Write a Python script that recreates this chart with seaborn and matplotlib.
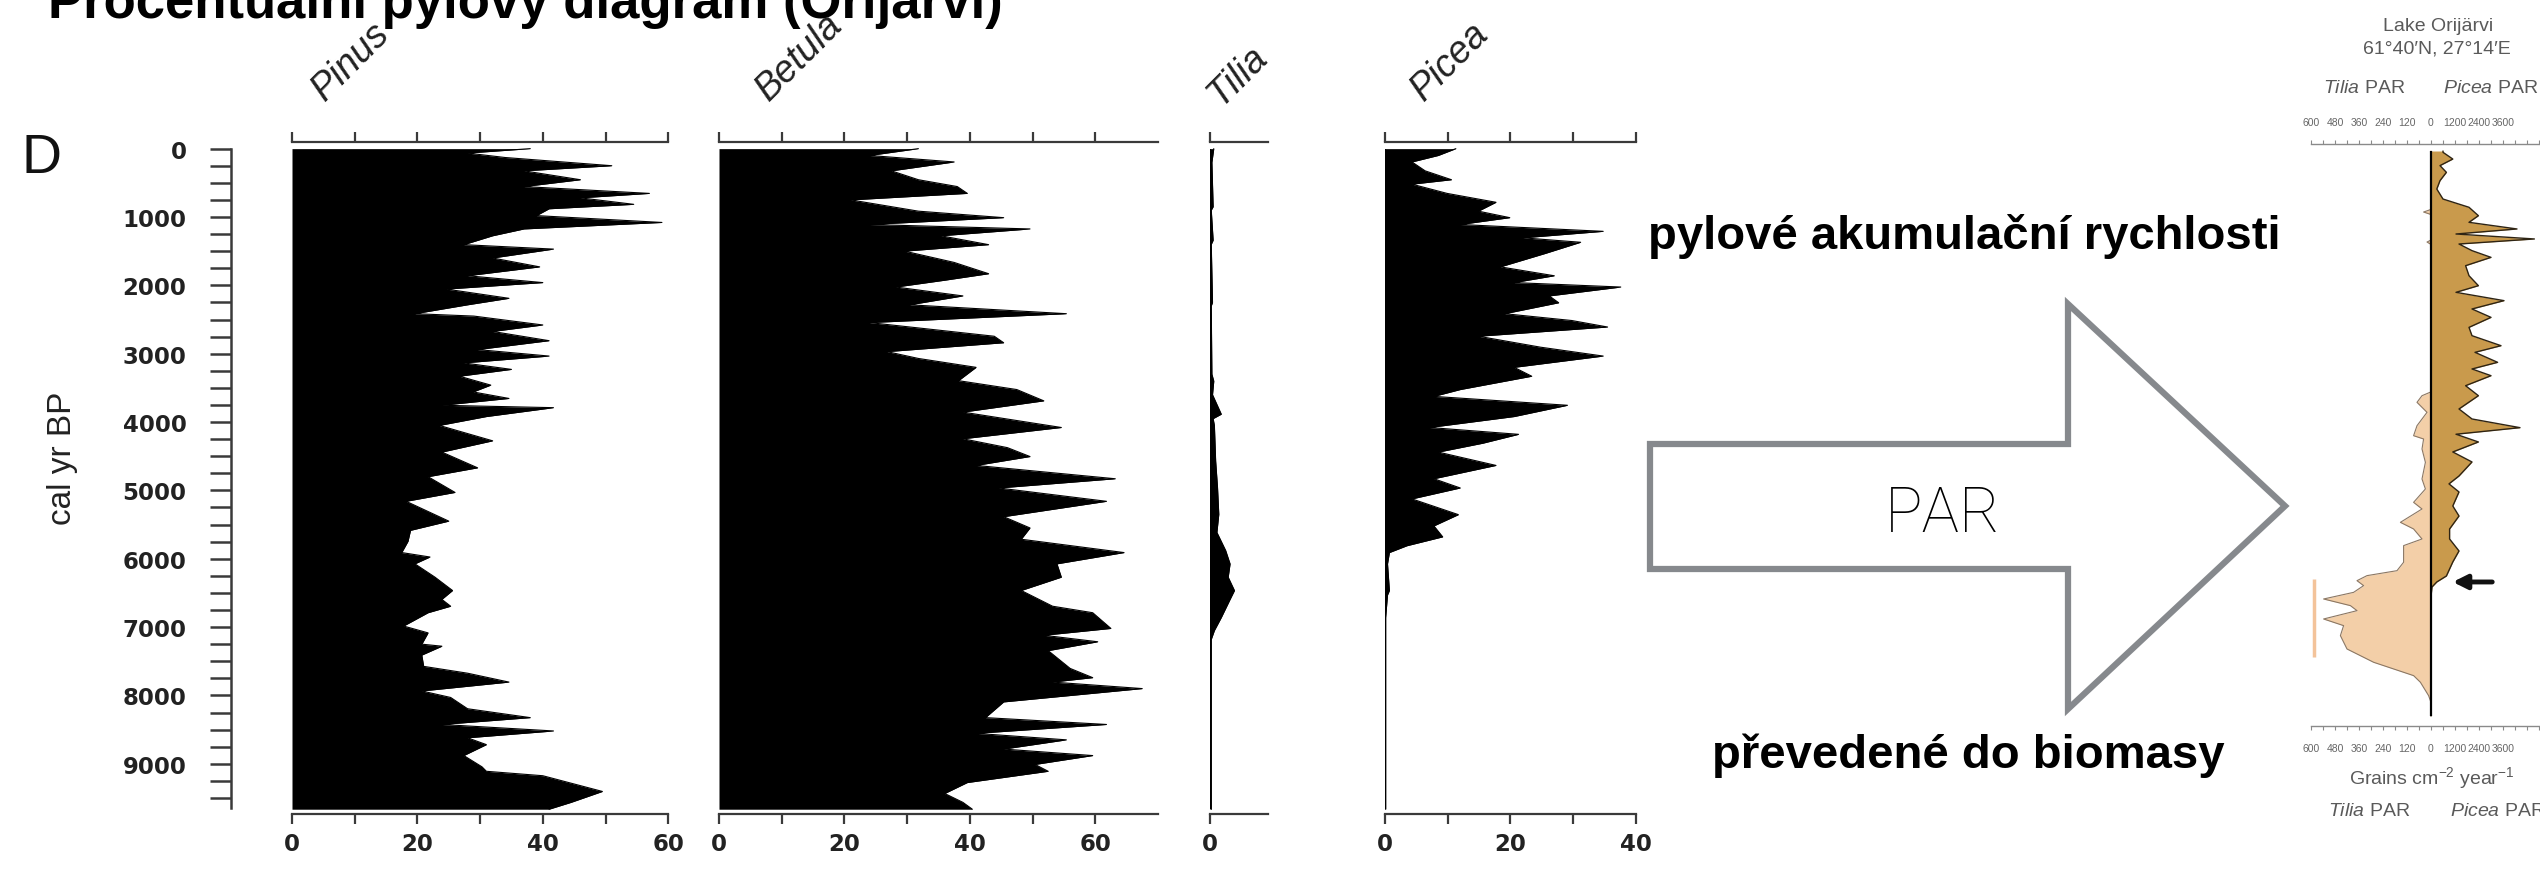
import numpy as np
import matplotlib
matplotlib.use("Agg")
import matplotlib.pyplot as plt
import seaborn as sns
from matplotlib.patches import Polygon

# ---------------- data ----------------
title = "Procentuální pylový diagram (Orijärvi)"
taxa = ["Pinus", "Betula", "Tilia", "Picea"]

pinus_age = [0, 65, 130, 250, 325, 455, 555, 655, 720, 815,
             880, 980, 1080, 1175, 1275, 1405, 1470, 1600, 1730, 1860,
             1960, 2055, 2190, 2285, 2415, 2450, 2580, 2675, 2810, 2940,
             3035, 3135, 3230, 3330, 3460, 3560, 3655, 3755, 3790, 3920,
             4050, 4275, 4440, 4670, 4800, 5030, 5160, 5450, 5585, 5745,
             5910, 5975, 6075, 6270, 6465, 6595, 6695, 6790, 6985, 7085,
             7250, 7280, 7410, 7575, 7675, 7805, 7935, 8030, 8195, 8325,
             8425, 8520, 8620, 8720, 8880, 9045, 9110, 9175, 9405, 9565,
             9665]
pinus_pct = [38, 28, 34, 51, 37, 46, 37, 57, 46, 54.5,
             41, 39, 59, 37, 32, 27.4, 41.7, 32, 39.5, 28,
             40, 24.6, 34.6, 28, 19.6, 29, 40, 32, 41, 29.6,
             41, 27.4, 35, 26.7, 31.7, 28.9, 34.6, 23.9, 41.7, 31,
             23.5, 32, 23.9, 29.6, 21.7, 26, 18.2, 25, 18.9, 18.5,
             17.5, 22, 19.6, 22.8, 25.6, 23.9, 25.3, 21.7, 17.8, 21.7,
             20.7, 23.9, 20.7, 21, 28, 34.6, 20.7, 25.3, 28, 38,
             23.9, 41.7, 28, 31, 27.4, 30.3, 31, 40, 49.5, 44.5,
             41]

betula_age = [0, 100, 195, 325, 455, 555, 655, 750, 915, 1010,
              1110, 1175, 1275, 1405, 1500, 1665, 1830, 1925, 2025, 2155,
              2285, 2415, 2545, 2745, 2840, 2970, 3070, 3200, 3395, 3525,
              3690, 3855, 4080, 4245, 4375, 4505, 4635, 4830, 4965, 5160,
              5385, 5550, 5715, 5910, 6075, 6270, 6465, 6695, 6790, 7020,
              7120, 7215, 7345, 7605, 7740, 7805, 7900, 8095, 8325, 8425,
              8555, 8650, 8785, 8880, 9010, 9110, 9275, 9435, 9565, 9665]
betula_pct = [31.8, 24, 37.5, 27.5, 31.8, 38, 39.6, 21, 31.8, 45.4,
              24, 49.6, 35.4, 43, 29.6, 37.5, 43, 36, 28.2, 38.9,
              30.4, 55.4, 24, 43.9, 45.4, 26.8, 31.8, 41, 38.2, 47.5,
              51.8, 38.9, 54.6, 38.9, 46, 49.6, 41, 63.2, 44.6, 61.8,
              45.4, 49.6, 48.2, 64.6, 53.9, 54.6, 48.2, 53.2, 59.6, 62.5,
              51.8, 60.4, 52.5, 56, 59.6, 53.2, 67.5, 45.4, 42.5, 61.8,
              41, 55.4, 45.4, 59.6, 50.4, 52.5, 39.6, 36, 38.9, 40.4]

tilia_age = [0, 200, 850, 900, 1340, 1400, 2250, 2300, 3300, 3400,
             3600, 3885, 3950, 4050, 4570, 4960, 5350, 5615, 5880, 6075,
             6270, 6465, 6595, 6860, 7050, 7180, 9665]
tilia_pct = [0.6, 0.3, 0.5, 0.2, 0.5, 0.2, 0.4, 0.2, 0.3, 0.6,
             0.4, 1.8, 0.5, 0.7, 0.9, 1.2, 1.4, 1.1, 2.5, 3.2,
             2.9, 3.9, 3.2, 1.8, 0.7, 0.2, 0.2]

picea_age = [0, 100, 195, 325, 455, 520, 655, 785, 915, 1010,
             1110, 1210, 1305, 1370, 1535, 1730, 1860, 1960, 2025, 2155,
             2255, 2415, 2515, 2610, 2745, 2905, 3035, 3200, 3330, 3525,
             3625, 3755, 3920, 4080, 4180, 4310, 4440, 4635, 4830, 4965,
             5125, 5355, 5520, 5680, 5810, 5910, 6075, 6465, 6530, 6860,
             9665]
picea_pct = [11.3, 8.5, 4.3, 6.4, 10.6, 4.3, 9.9, 17.7, 14.9, 19.9,
             12, 34.8, 22, 31.2, 25.5, 18.4, 27, 20.6, 37.6, 26.2,
             27.7, 19.1, 29.8, 35.5, 14.9, 24.8, 34.8, 20.6, 23.4, 12,
             7.8, 29.1, 20.6, 7.1, 21.3, 15.6, 8.5, 17.7, 7.8, 12,
             4.3, 11.7, 7.8, 9.2, 3.5, 0.7, 0.4, 0.7, 0.4, 0.1,
             0.1]

panel_xmax = [60, 70, 9.3, 40]
panel_xticks = [[0, 10, 20, 30, 40, 50, 60], [0, 10, 20, 30, 40, 50, 60], [0], [0, 10, 20, 30, 40]]
panel_xticklabels = [["0", "", "20", "", "40", "", "60"],
                     ["0", "", "20", "", "40", "", "60"],
                     ["0"],
                     ["0", "", "20", "", "40"]]
age_ticks = [0, 1000, 2000, 3000, 4000, 5000, 6000, 7000, 8000, 9000]
age_ticklabels = ["0", "1000", "2000", "3000", "4000", "5000", "6000", "7000", "8000", "9000"]

# PAR diagram (Lake Orijärvi)
picea_par_age = [0, 18, 110, 200, 292, 406, 521, 658, 771, 886,
                 977, 1068, 1137, 1205, 1274, 1365, 1457, 1571, 1708, 1845,
                 1936, 2050, 2164, 2279, 2416, 2530, 2667, 2758, 2895, 2986,
                 3078, 3215, 3352, 3534, 3671, 3790, 3880, 3986, 4123, 4260,
                 4452, 4560, 4671, 4863, 5000, 5178, 5315, 5479, 5630, 5822,
                 5904, 5973, 6100, 7740]
picea_par = [600, 600, 1090, 450, 770, 450, 290, 600, 1900, 2370,
             1900, 4300, 1250, 5170, 1400, 2050, 3000, 1730, 1900, 2370,
             1250, 3650, 2050, 3000, 1900, 2050, 3500, 2200, 3330, 2050,
             3000, 1730, 2370, 1400, 2050, 4450, 1250, 2370, 1090, 2050,
             1400, 900, 1400, 1090, 1400, 930, 930, 1400, 1090, 770,
             290, 50, 0, 0]
tilia_par_age = [0, 800, 836, 870, 1220, 1247, 1280, 3300, 3352, 3443,
                 3580, 3763, 3900, 3945, 4082, 4265, 4493, 4630, 4813, 4904,
                 5087, 5178, 5315, 5406, 5634, 5749, 5817, 5886, 5954, 6046,
                 6137, 6228, 6297, 6411, 6502, 6639, 6822, 7004, 7187, 7278,
                 7461, 7553, 7740]
tilia_par = [0, 0, 37, 0, 0, 20, 0, 0, 45, 70,
             20, 70, 87, 37, 45, 28, 45, 28, 87, 45,
             153, 87, 45, 137, 137, 170, 320, 370, 337, 387,
             537, 403, 370, 537, 437, 453, 420, 287, 87, 53,
             12, 0, 0]
tilia_par_factor = 10  # Tilia axis: 120 per tick vs Picea 1200 per tick
par_ticks = [-6000, -4800, -3600, -2400, -1200, 0, 1200, 2400, 3600]
par_ticklabels = ["600", "480", "360", "240", "120", "0", "1200", "2400", "3600"]
tilia_maximum_bar = (-5850, 5860, 6930)   # x, age from, age to
picea_rise_arrow = (950, 3200, 5904)      # head x, tail x, age

# ---------------- style ----------------
sns.set_theme(style="white")
plt.rcParams["font.family"] = ["Liberation Sans", "DejaVu Sans"]
plt.rcParams["mathtext.fontset"] = "custom"
plt.rcParams["mathtext.rm"] = "Liberation Sans"
plt.rcParams["mathtext.it"] = "Liberation Sans:italic"

W, H = 2540, 887
fig = plt.figure(figsize=(W / 100, H / 100), dpi=100)
fig.patch.set_facecolor("white")


def px_ax(x0, yt, x1, yb, **kw):
    return fig.add_axes([x0 / W, 1 - yb / H, (x1 - x0) / W, (yb - yt) / H], **kw)


ov = px_ax(0, 0, W, H, zorder=10)
ov.set_xlim(0, W)
ov.set_ylim(H, 0)
ov.axis("off")
ov.patch.set_alpha(0)

SPINE = "#3a3a3a"
TICKFS = 16.5
PX_PER_UNIT = 6.27
AX_TOP, AX_BOT = 143, 815
AGE_TOP, AGE_BOT = -97, 9735
panel_x0 = [292, 719, 1210, 1385]
series = [(pinus_age, pinus_pct), (betula_age, betula_pct), (tilia_age, tilia_pct), (picea_age, picea_pct)]

for i, name in enumerate(taxa):
    ages, vals = np.array(series[i][0]), np.array(series[i][1])
    x0 = panel_x0[i]
    ax = px_ax(x0, AX_TOP, x0 + panel_xmax[i] * PX_PER_UNIT, AX_BOT)
    ax.patch.set_alpha(0)
    ax.fill_betweenx(ages, 0, vals, color="black", lw=0, zorder=2)
    sns.lineplot(x=vals, y=ages, orient="y", estimator=None, color="black", lw=0.8, ax=ax)
    if name in ("Tilia", "Picea"):
        ax.vlines(0, ages.min(), ages.max(), color="black", lw=1.6, zorder=3)
    ax.set_xlim(0, panel_xmax[i])
    ax.set_ylim(AGE_BOT, AGE_TOP)
    ax.set_xlabel("")
    ax.set_ylabel("")
    ax.set_yticks([])
    for s in ("left", "right"):
        ax.spines[s].set_visible(False)
    for s in ("top", "bottom"):
        ax.spines[s].set_visible(True)
        ax.spines[s].set_color(SPINE)
        ax.spines[s].set_linewidth(1.6)
    ax.set_xticks(panel_xticks[i])
    ax.set_xticklabels(panel_xticklabels[i])
    ax.tick_params(axis="x", which="both", top=True, bottom=True, labeltop=False,
                   labelbottom=True, direction="out", length=7, width=1.6,
                   color=SPINE, pad=6, labelsize=TICKFS, labelcolor="#222")
    for lb in ax.get_xticklabels():
        lb.set_fontweight("bold")
        lb.set_family("DejaVu Sans")

# shared age axis
ay = px_ax(231, AX_TOP, 232, AX_BOT)
ay.patch.set_alpha(0)
ay.set_ylim(AGE_BOT, AGE_TOP)
ay.set_xticks([])
for s in ("top", "bottom", "right"):
    ay.spines[s].set_visible(False)
ay.spines["left"].set_visible(True)
ay.spines["left"].set_color(SPINE)
ay.spines["left"].set_linewidth(1.8)
ay.spines["left"].set_bounds(0, 9650)
ay.set_yticks(age_ticks)
ay.set_yticklabels(age_ticklabels)
ay.set_yticks(np.arange(0, 9501, 250), minor=True)
ay.tick_params(axis="y", which="both", left=True, direction="out", length=15,
               width=1.8, color=SPINE, pad=17, labelsize=TICKFS, labelcolor="#222")
for lb in ay.get_yticklabels():
    lb.set_fontweight("bold")
    lb.set_family("DejaVu Sans")

# texts on left side
ov.text(48, 18, title, fontsize=38, fontweight="bold", ha="left", va="baseline", color="black")
ov.text(21, 173, "D", fontsize=40, ha="left", va="baseline", color="#111")
ov.text(62, 458, "cal yr BP", rotation=90, fontsize=24, ha="center", va="center", color="#222")
label_anchor = [(325, 102), (769, 102), (1221, 107), (1424, 102)]
for name, (lx, ly) in zip(taxa, label_anchor):
    ov.text(lx, ly, name, rotation=45, rotation_mode="anchor", ha="left", va="baseline",
            fontsize=27, style="italic", color="#222")

# middle: texts and arrow
ov.text(1648, 249, "pylové akumulační rychlosti", fontsize=34, fontweight="bold",
        ha="left", va="baseline", color="black")
ov.text(1712, 768, "převedené do biomasy", fontsize=34, fontweight="bold",
        ha="left", va="baseline", color="black")
arrow_pts = [(1650, 445), (2068, 445), (2068, 305), (2285, 507), (2068, 710), (2068, 570), (1650, 570)]
ov.add_patch(Polygon(arrow_pts, closed=True, fill=False, edgecolor="#86898d", lw=4.5, joinstyle="miter"))
ov.text(1943, 532, "PAR", fontsize=45, family=["Roboto", "DejaVu Sans"], fontweight="light",
        ha="center", va="baseline", color="black")

# right: PAR diagram
ar = px_ax(2311, 145, 2551, 727)
ar.patch.set_alpha(0)
pa, pv = np.array(picea_par_age), np.array(picea_par)
ta, tv = np.array(tilia_par_age), -np.array(tilia_par) * tilia_par_factor
ar.fill_betweenx(pa, 0, pv, color="#c99a4c", lw=0, zorder=2)
ar.fill_betweenx(ta, tv, 0, color="#f3cfa8", lw=0, zorder=2)
sns.lineplot(x=pv, y=pa, orient="y", estimator=None, color="#2e2414", lw=1.0, ax=ar)
sns.lineplot(x=tv, y=ta, orient="y", estimator=None, color="#8b7763", lw=0.8, ax=ar)
ar.vlines(0, 0, max(pa.max(), ta.max()), color="black", lw=1.6, zorder=4)
ar.vlines(tilia_maximum_bar[0], tilia_maximum_bar[1], tilia_maximum_bar[2], color="#f3c39a", lw=2.5)
ar.annotate("", xy=(picea_rise_arrow[0], picea_rise_arrow[2]), xytext=(picea_rise_arrow[1], picea_rise_arrow[2]),
            arrowprops=dict(arrowstyle="-|>,head_length=0.7,head_width=0.35", color="#111", lw=3.5))
ar.set_xlim(-6000, 6000)
ar.set_ylim(7877, -96)
ar.set_xlabel("")
ar.set_ylabel("")
ar.set_yticks([])
for s in ("left", "right"):
    ar.spines[s].set_visible(False)
for s in ("top", "bottom"):
    ar.spines[s].set_visible(True)
    ar.spines[s].set_color("#8a8a8a")
    ar.spines[s].set_linewidth(1.0)
ar.set_xticks(par_ticks)
ar.set_xticklabels(par_ticklabels)
ar.set_xticks(np.arange(-6000, 6001, 600), minor=True)
ar.tick_params(axis="x", which="both", top=True, bottom=True, labeltop=True, labelbottom=True,
               direction="out", length=3, width=0.8, color="#8a8a8a", pad=9,
               labelsize=7.5, labelcolor="#666")

GRAY = "#5a5a5a"
ov.text(2438, 31, "Lake Orijärvi", fontsize=14, ha="center", va="baseline", color=GRAY)
ov.text(2437, 54, "61°40′N, 27°14′E", fontsize=14, ha="center", va="baseline", color=GRAY)
ov.text(2323, 93, r"$\it{Tilia}$ PAR", fontsize=14, ha="left", va="baseline", color=GRAY)
ov.text(2443, 93, r"$\it{Picea}$ PAR", fontsize=14, ha="left", va="baseline", color=GRAY)
ov.text(2432, 784, r"Grains cm$^{-2}$ year$^{-1}$", fontsize=14, ha="center", va="baseline", color=GRAY)
ov.text(2328, 816, r"$\it{Tilia}$ PAR", fontsize=14, ha="left", va="baseline", color=GRAY)
ov.text(2450, 816, r"$\it{Picea}$ PAR", fontsize=14, ha="left", va="baseline", color=GRAY)

fig.savefig("out.png", dpi=100, facecolor="white")
